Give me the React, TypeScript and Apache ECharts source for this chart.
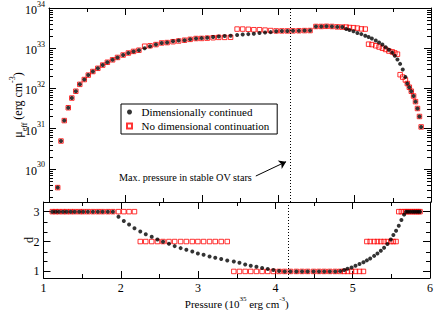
import React, { useEffect, useRef } from 'react';
import * as echarts from 'echarts';

// ---- data ----
const pressure = [
  1.114, 1.157, 1.2, 1.252, 1.299, 1.351, 1.403, 1.462, 1.514, 1.574,
  1.639, 1.703, 1.764, 1.832, 1.897, 1.97, 2.039, 2.107, 2.177, 2.252,
  2.323, 2.4, 2.474, 2.546, 2.623, 2.697, 2.774, 2.848, 2.925, 2.997,
  3.071, 3.148, 3.222, 3.299, 3.377, 3.462, 3.535, 3.609, 3.681, 3.755,
  3.828, 3.901, 3.974, 4.048, 4.12, 4.194, 4.271, 4.345, 4.417, 4.494,
  4.564, 4.632, 4.703, 4.774, 4.839, 4.89, 4.933, 4.985, 5.036, 5.088,
  5.139, 5.183, 5.226, 5.277, 5.32, 5.364, 5.406, 5.449, 5.493, 5.526,
  5.561, 5.596, 5.63, 5.665, 5.69, 5.716, 5.742, 5.772, 5.797, 5.823,
  5.849, 5.871,
];

const muContinued = [
  3.4e29, 4.9e30, 1.58e31, 3.3e31, 5.75e31, 8.5e31, 1.26e32, 1.66e32, 2.14e32, 2.63e32,
  3.16e32, 3.8e32, 4.47e32, 5.13e32, 5.89e32, 6.76e32, 7.59e32, 8.32e32, 8.91e32, 1.0e33,
  1.12e33, 1.23e33, 1.35e33, 1.38e33, 1.48e33, 1.55e33, 1.58e33, 1.66e33, 1.74e33, 1.78e33,
  1.82e33, 1.91e33, 1.95e33, 2.0e33, 2.04e33, 2.14e33, 2.19e33, 2.24e33, 2.29e33, 2.4e33,
  2.45e33, 2.51e33, 2.63e33, 2.69e33, 2.69e33, 2.7e33, 2.72e33, 2.74e33, 2.75e33, 3.47e33,
  3.47e33, 3.5e33, 3.47e33, 3.39e33, 3.35e33, 3.02e33, 2.82e33, 2.63e33, 2.4e33, 2.24e33,
  2.04e33, 1.91e33, 1.74e33, 1.55e33, 1.38e33, 1.23e33, 1.05e33, 9.1e32, 7.76e32, 6.46e32,
  5.25e32, 4.07e32, 2.95e32, 1.91e32, 1.32e32, 1.07e32, 8.5e31, 6.46e31, 4.68e31, 3.16e31,
  2.0e31, 1.1e31,
];

const muNoContinuation = [
  3.4e29, 4.9e30, 1.58e31, 3.3e31, 5.75e31, 8.5e31, 1.26e32, 1.66e32, 2.14e32, 2.63e32,
  3.16e32, 3.8e32, 4.47e32, 5.13e32, 5.89e32, 6.76e32, 7.59e32, 8.32e32, 8.91e32, 1.12e33,
  1.15e33, 1.23e33, 1.35e33, 1.38e33, 1.45e33, 1.51e33, 1.58e33, 1.66e33, 1.74e33, 1.75e33,
  1.78e33, 1.82e33, 1.86e33, 1.86e33, 1.87e33, 2.99e33, 2.99e33, 2.95e33, 2.88e33, 2.88e33,
  2.82e33, 2.75e33, 2.69e33, 2.69e33, 2.69e33, 2.7e33, 2.72e33, 2.74e33, 2.75e33, 3.47e33,
  3.47e33, 3.5e33, 3.47e33, 3.39e33, 3.35e33, 3.35e33, 3.27e33, 3.24e33, 3.16e33, 3.02e33,
  2.99e33, 1.26e33, 1.23e33, 1.15e33, 1.07e33, 1.0e33, 9.3e32, 8.5e32, 8.1e32, 7.6e32,
  7.1e32, 2.19e32, 1.91e32, 1.62e32, 1.32e32, 1.07e32, 8.5e31, 6.46e31, 4.68e31, 3.16e31,
  2.0e31, 1.1e31,
];

const dContinued = [
  3, 3, 3, 3, 3, 3, 3, 3, 3, 3,
  3, 3, 3, 3, 3, 2.833, 2.69, 2.567, 2.447, 2.333,
  2.247, 2.157, 2.067, 1.99, 1.923, 1.847, 1.78, 1.723, 1.667, 1.6,
  1.557, 1.5, 1.457, 1.413, 1.367, 1.333, 1.29, 1.233, 1.19, 1.157,
  1.113, 1.08, 1.047, 1.013, 1, 1, 1, 1, 1, 1,
  1, 1, 1, 1, 1.01, 1.05, 1.09, 1.13, 1.19, 1.25,
  1.31, 1.37, 1.43, 1.52, 1.6, 1.69, 1.79, 1.92, 2.07, 2.22,
  2.36, 2.53, 2.72, 2.9, 3, 3, 3, 3, 3, 3,
  3, 3,
];

const dNoContinuation = [
  3, 3, 3, 3, 3, 3, 3, 3, 3, 3,
  3, 3, 3, 3, 3, 3, 3, 3, 3, 2,
  2, 2, 2, 2, 2, 2, 2, 2, 2, 2,
  2, 2, 2, 2, 2, 1, 1, 1, 1, 1,
  1, 1, 1, 1, 1, 1, 1, 1, 1, 1,
  1, 1, 1, 1, 1, 1, 1, 1, 1, 1,
  1, 2, 2, 2, 2, 2, 2, 2, 2, 2,
  2, 3, 3, 3, 3, 3, 3, 3, 3, 3,
  3, 3,
];

const pressureTicks = [1, 2, 3, 4, 5, 6];
const muTickExponents = [30, 31, 32, 33, 34];
const muMinorMantissas = [2, 3, 4, 5, 6, 7, 8, 9];
const dTicks = [1, 2, 3];
const dMinorTicks = [4 / 3, 5 / 3, 7 / 3, 8 / 3];
const maxStableOVPressure = 4.159;
const annotationText = 'Max. pressure in stable OV stars';
const seriesNames = ['Dimensionally continued', 'No dimensional continuation'];

const FONT = 'Liberation Serif, Times New Roman, serif';
const MU_MIN = 1.49e29;
const MU_MAX = 1e34;

const minorTickRenderer = (params: any, api: any) => {
  const cs = params.coordSys;
  const pt = api.coord([pressureTicks[0], api.value(1)]);
  const y = Math.round(pt[1]) + 0.5;
  const st = { stroke: '#000', lineWidth: 1 };
  return {
    type: 'group',
    children: [
      { type: 'line', shape: { x1: cs.x, y1: y, x2: cs.x + 4, y2: y }, style: st },
      { type: 'line', shape: { x1: cs.x + cs.width - 4, y1: y, x2: cs.x + cs.width, y2: y }, style: st },
    ],
  };
};

export default function App() {
  const ref = useRef<HTMLDivElement>(null);
  useEffect(() => {
    if (!ref.current) return;
    const chart = echarts.init(ref.current, undefined, { renderer: 'svg' });

    const muMinor: number[] = [];
    for (let e = muTickExponents[0] - 1; e < muTickExponents[muTickExponents.length - 1]; e++) {
      for (const m of muMinorMantissas) {
        const v = m * Math.pow(10, e);
        if (v > MU_MIN && v < MU_MAX) muMinor.push(v);
      }
    }

    const line = { show: true, onZero: false, lineStyle: { color: '#000', width: 1 } };
    const majorTick = { show: true, inside: true, length: 7, lineStyle: { color: '#000', width: 1 } };
    const minorTick = { show: true, splitNumber: 2, length: 4, lineStyle: { color: '#000', width: 1 } };
    const labelStyle = { fontFamily: FONT, fontSize: 12, color: '#000' };

    const xAxisBase = (gridIndex: number, position: string, showLabel: boolean) => ({
      gridIndex,
      type: 'value',
      position,
      min: pressureTicks[0],
      max: pressureTicks[pressureTicks.length - 1],
      interval: 1,
      axisLine: line,
      axisTick: majorTick,
      minorTick,
      splitLine: { show: false },
      axisLabel: { show: showLabel, ...labelStyle, margin: 4 },
    });

    const muLabel = (v: number) => {
      const e = Math.round(Math.log10(v));
      if (muTickExponents.indexOf(e) < 0) return '';
      return `{b|10}{s|${e}}`;
    };

    const muAxis = (position: string, showLabel: boolean) => ({
      gridIndex: 0,
      type: 'log',
      logBase: 10,
      position,
      min: MU_MIN,
      max: MU_MAX,
      axisLine: line,
      axisTick: majorTick,
      splitLine: { show: false },
      axisLabel: {
        show: showLabel,
        showMinLabel: false,
        margin: 4,
        color: '#000',
        fontFamily: FONT,
        formatter: muLabel,
        rich: {
          b: { fontFamily: FONT, fontSize: 12, color: '#000', lineHeight: 16, verticalAlign: 'bottom' },
          s: { fontFamily: FONT, fontSize: 8, color: '#000', lineHeight: 16, verticalAlign: 'top' },
        },
      },
    });

    const dAxis = (position: string, showLabel: boolean) => ({
      gridIndex: 1,
      type: 'value',
      position,
      min: 0.78,
      max: 3.323,
      axisLine: line,
      axisTick: { ...majorTick, customValues: dTicks },
      splitLine: { show: false },
      axisLabel: { show: showLabel, customValues: dTicks, ...labelStyle, margin: 4 },
    });

    const redStyle = { color: 'rgba(255,255,255,0)', borderColor: '#ff0000', borderWidth: 1 };
    const dotted = {
      symbol: ['none', 'none'],
      silent: true,
      animation: false,
      label: { show: false },
      lineStyle: { color: '#000', width: 1, type: [1, 2] },
    };

    const option: any = {
      animation: false,
      backgroundColor: '#fff',
      textStyle: { fontFamily: FONT },
      grid: [
        { left: 43.5, right: 5, top: 6.5, height: 195.5 },
        { left: 43.5, right: 5, top: 202, height: 76.3 },
      ],
      legend: {
        left: 121,
        top: 104,
        orient: 'vertical',
        selectedMode: false,
        backgroundColor: '#fff',
        borderColor: '#000',
        borderWidth: 1,
        borderRadius: 0,
        padding: [2, 8, 2, 5],
        itemGap: 2,
        itemWidth: 14,
        itemHeight: 5,
        symbolKeepAspect: true,
        textStyle: { fontFamily: FONT, fontSize: 11, color: '#000', lineHeight: 12 },
        data: [
          { name: seriesNames[0], icon: 'circle' },
          { name: seriesNames[1], icon: 'path://M0,0L10,0L10,10L0,10Z' },
        ],
      },
      xAxis: [
        xAxisBase(0, 'bottom', false),
        xAxisBase(0, 'top', false),
        {
          ...xAxisBase(1, 'bottom', true),
          name: '{t|Pressure (10}{s|35}{t| erg cm}{s|-3}{t|)}',
          nameLocation: 'middle',
          nameGap: 17,
          nameMoveOverlap: false,
          nameTextStyle: {
            rich: {
              t: { fontFamily: FONT, fontSize: 11, color: '#000', lineHeight: 14, verticalAlign: 'bottom' },
              s: { fontFamily: FONT, fontSize: 7, color: '#000', lineHeight: 14, verticalAlign: 'top' },
            },
          },
        },
        xAxisBase(1, 'top', false),
      ],
      yAxis: [
        {
          ...muAxis('left', true),
          name: '{t|μ}{sub|eff}{t| (erg cm}{sup|-3}{t|)}',
          nameLocation: 'middle',
          nameGap: 21,
          nameMoveOverlap: false,
          nameTextStyle: {
            rich: {
              t: { fontFamily: FONT, fontSize: 12, color: '#000', lineHeight: 20, verticalAlign: 'middle' },
              sub: { fontFamily: FONT, fontSize: 8, color: '#000', lineHeight: 20, verticalAlign: 'bottom' },
              sup: { fontFamily: FONT, fontSize: 8, color: '#000', lineHeight: 20, verticalAlign: 'top' },
            },
          },
        },
        muAxis('right', false),
        {
          ...dAxis('left', true),
          name: 'd',
          nameLocation: 'middle',
          nameGap: 9,
          nameMoveOverlap: false,
          nameTextStyle: { fontFamily: FONT, fontSize: 12, color: '#000' },
        },
        dAxis('right', false),
      ],
      graphic: [
        {
          type: 'text',
          x: 119,
          y: 177,
          silent: true,
          style: {
            text: annotationText,
            font: `10.2px ${FONT}`,
            fill: '#000',
            verticalAlign: 'middle',
          },
        },
      ],
      series: [
        {
          type: 'custom',
          xAxisIndex: 0,
          yAxisIndex: 0,
          silent: true,
          clip: false,
          z: 5,
          data: muMinor.map((v) => [pressureTicks[0], v]),
          renderItem: minorTickRenderer,
        },
        {
          type: 'custom',
          xAxisIndex: 2,
          yAxisIndex: 2,
          silent: true,
          clip: false,
          z: 5,
          data: dMinorTicks.map((v) => [pressureTicks[0], v]),
          renderItem: minorTickRenderer,
        },
        {
          name: seriesNames[1],
          type: 'scatter',
          xAxisIndex: 0,
          yAxisIndex: 0,
          symbol: 'rect',
          symbolSize: 4.5,
          itemStyle: redStyle,
          z: 2,
          data: pressure.map((p, i) => [p, muNoContinuation[i]]),
        },
        {
          name: seriesNames[0],
          type: 'scatter',
          xAxisIndex: 0,
          yAxisIndex: 0,
          symbol: 'circle',
          symbolSize: 4,
          itemStyle: { color: '#000' },
          z: 3,
          data: pressure.map((p, i) => [p, muContinued[i]]),
          markLine: {
            ...dotted,
            data: [
              { xAxis: maxStableOVPressure },
              [
                { coord: [3.707, 6.6e29], symbol: 'none', lineStyle: { type: 'solid', width: 1 } },
                { coord: [4.103, 1.5e30], symbol: 'arrow', symbolSize: 7, lineStyle: { type: 'solid', width: 1 } },
              ],
            ],
          },
        },
        {
          name: seriesNames[1],
          type: 'scatter',
          xAxisIndex: 2,
          yAxisIndex: 2,
          symbol: 'rect',
          symbolSize: 4.5,
          itemStyle: redStyle,
          z: 2,
          data: pressure.map((p, i) => [p, dNoContinuation[i]]),
        },
        {
          name: seriesNames[0],
          type: 'scatter',
          xAxisIndex: 2,
          yAxisIndex: 2,
          symbol: 'circle',
          symbolSize: 4,
          itemStyle: { color: '#000' },
          z: 3,
          data: pressure.map((p, i) => [p, dContinued[i]]),
          markLine: { ...dotted, data: [{ xAxis: maxStableOVPressure }] },
        },
      ],
    };

    chart.setOption(option);
    return () => chart.dispose();
  }, []);

  return (
    <div
      ref={ref}
      style={{ position: 'fixed', left: 0, top: 0, width: 436, height: 310, background: '#fff' }}
    />
  );
}
